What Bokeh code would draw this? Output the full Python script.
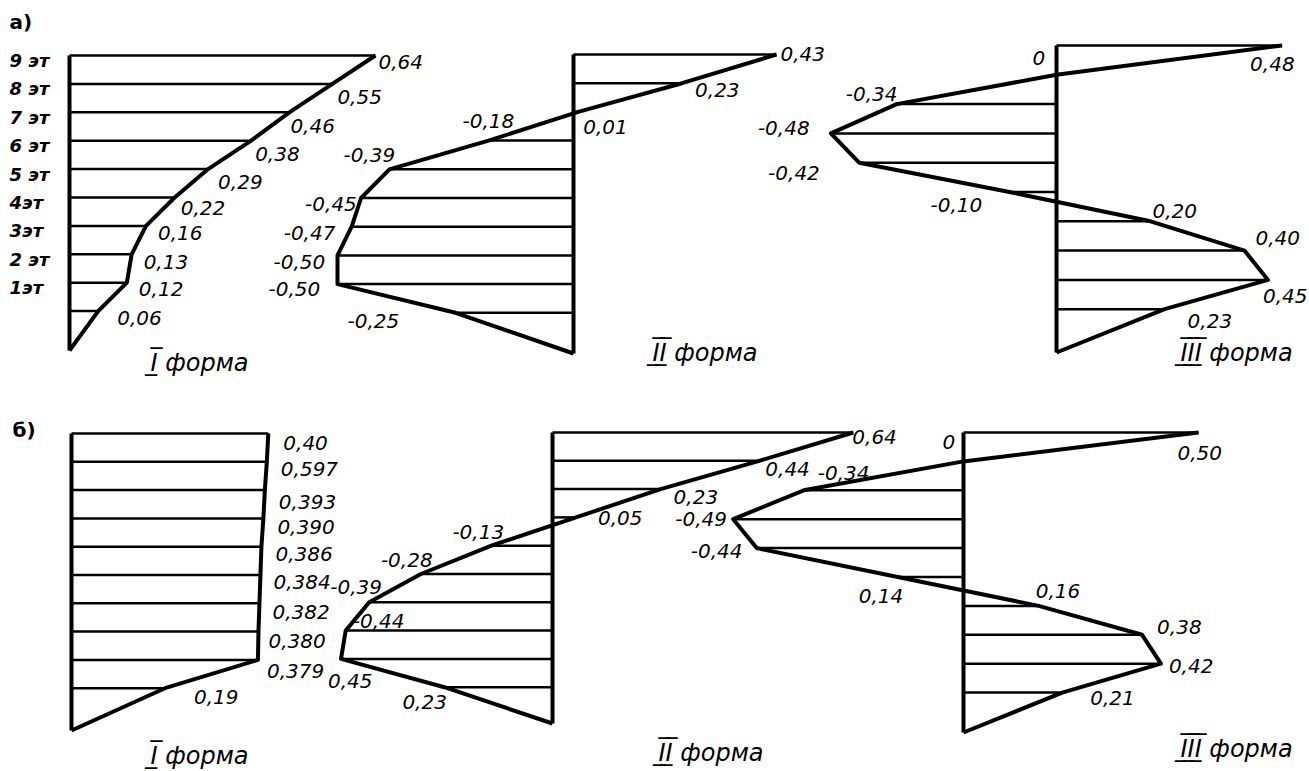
from bokeh.plotting import figure
from bokeh.models import Range1d, ColumnDataSource
from bokeh.core.properties import value
from bokeh.embed import file_html
from bokeh.resources import INLINE

# ---------------- data ----------------
floor_labels = ["9 эт", "8 эт", "7 эт", "6 эт", "5 эт", "4эт", "3эт", "2 эт", "1эт"]

a1_vals = [0.64, 0.55, 0.46, 0.38, 0.29, 0.22, 0.16, 0.13, 0.12, 0.06]
a1_text = ["0,64", "0,55", "0,46", "0,38", "0,29", "0,22", "0,16", "0,13", "0,12", "0,06"]

a2_vals = [0.43, 0.23, 0.01, -0.18, -0.39, -0.45, -0.47, -0.50, -0.50, -0.25]
a2_text = ["0,43", "0,23", "0,01", "-0,18", "-0,39", "-0,45", "-0,47", "-0,50", "-0,50", "-0,25"]

a3_vals = [0.48, 0.0, -0.34, -0.48, -0.42, -0.10, 0.20, 0.40, 0.45, 0.23]
a3_text = ["0,48", "0", "-0,34", "-0,48", "-0,42", "-0,10", "0,20", "0,40", "0,45", "0,23"]

b1_vals = [0.40, 0.397, 0.393, 0.390, 0.386, 0.384, 0.382, 0.380, 0.379, 0.19]
b1_text = ["0,40", "0,597", "0,393", "0,390", "0,386", "0,384", "0,382", "0,380", "0,379", "0,19"]

b2_vals = [0.64, 0.44, 0.23, 0.05, -0.13, -0.28, -0.39, -0.44, -0.45, -0.23]
b2_text = ["0,64", "0,44", "0,23", "0,05", "-0,13", "-0,28", "-0,39", "-0,44", "0,45", "0,23"]

b3_vals = [0.50, 0.0, -0.34, -0.49, -0.44, -0.14, 0.16, 0.38, 0.42, 0.21]
b3_text = ["0,50", "0", "-0,34", "-0,49", "-0,44", "0,14", "0,16", "0,38", "0,42", "0,21"]

mode_titles = ["I", "II", "III"]
row_labels = ["а)", "б)"]

# ---------------- layout ----------------
W, H = 1309, 771
p = figure(width=W, height=H, output_backend="svg", toolbar_location=None,
           x_range=Range1d(0, W), y_range=Range1d(H, 0),
           x_axis_type=None, y_axis_type=None, min_border=0)
p.grid.visible = False
p.outline_line_color = None
p.background_fill_color = "white"
p.border_fill_color = "white"

FONT = value("DejaVu Sans")
INK = "#000000"

panels = [
    dict(vals=a1_vals, text=a1_text, base=69, top=55, sp=28.4, ground=350, scale=478,
         off=[(3, 6), (5, 13), (1, 14), (4, 13), (10, 13), (6, 10), (12, 7), (12, 8), (12, 6), (19, 7)],
         title=(150, 362, 0)),
    dict(vals=a2_vals, text=a2_text, base=573, top=54, sp=28.7, ground=353, scale=472,
         off=[(4, -1), (13, 7), (5, 15), (-26, -20), (-46, -14), (-56, 6), (-68, 6), (-64, 7), (-69, 5), (-108, 8)],
         title=(652, 352, 1)),
    dict(vals=a3_vals, text=a3_text, base=1056, top=45, sp=29.3, ground=352, scale=470,
         off=[(-32, 18), (-24, -17), (-51, -10), (-73, -5), (-91, 10), (-79, 13), (2, -10), (11, -13), (-5, 16), (23, 12)],
         title=(1180, 352, 2)),
    dict(vals=b1_vals, text=b1_text, base=71, top=433, sp=28.3, ground=730, scale=492,
         off=[(15, 9), (14, 7), (14, 12), (14, 9), (14, 7), (13, 7), (13, 9), (10, 9), (9, 11), (29, 9)],
         title=(150, 755, 0)),
    dict(vals=b2_vals, text=b2_text, base=552, top=432, sp=28.3, ground=723, scale=470,
         off=[(-1, 4), (6, 8), (13, 8), (22, 1), (-39, -14), (-40, -14), (-39, -15), (7, -10), (-13, 22), (-42, 15)],
         title=(658, 752, 1)),
    dict(vals=b3_vals, text=b3_text, base=963, top=432, sp=28.9, ground=732, scale=470,
         off=[(-21, 20), (-21, -19), (14, -17), (-58, 0), (-66, 3), (-39, 19), (-3, -15), (15, -8), (8, 2), (28, 5)],
         title=(1180, 748, 2)),
]


def numeral(s):
    return "".join(ch + "\u0305\u0332" for ch in s)


for pn in panels:
    n = len(pn["vals"])
    ys = [pn["top"] + i * pn["sp"] for i in range(n)]
    xs = [pn["base"] + v * pn["scale"] for v in pn["vals"]]
    # floor lines
    p.segment(x0=[pn["base"]] * n, y0=ys, x1=xs, y1=ys, line_color=INK, line_width=2.5)
    # building axis
    p.segment(x0=[pn["base"]], y0=[pn["top"]], x1=[pn["base"]], y1=[pn["ground"]],
              line_color=INK, line_width=4)
    # mode shape
    p.line(x=xs + [pn["base"]], y=ys + [pn["ground"]], line_color=INK, line_width=4,
           line_join="round")
    # value labels
    src = ColumnDataSource(dict(x=[x + o[0] for x, o in zip(xs, pn["off"])],
                                y=[y + o[1] for y, o in zip(ys, pn["off"])],
                                t=pn["text"]))
    p.text(x="x", y="y", text="t", source=src, text_font=FONT, text_font_style="italic",
           text_font_size="20px", text_baseline="middle", text_align="left", text_color=INK)
    tx, ty, k = pn["title"]
    p.text(x=[tx], y=[ty], text=[numeral(mode_titles[k]) + " форма"], text_font=FONT,
           text_font_style="italic", text_font_size="24px", text_baseline="middle",
           text_align="left", text_color=INK)

# floor names for first panel
a1 = panels[0]
p.text(x=[9] * len(floor_labels),
       y=[a1["top"] + i * a1["sp"] + 5 for i in range(len(floor_labels))],
       text=floor_labels, text_font=FONT, text_font_style="bold italic",
       text_font_size="18px", text_baseline="middle", text_align="left", text_color=INK)

# row labels
p.text(x=[9, 12], y=[21, 429], text=row_labels, text_font=FONT, text_font_style="bold",
       text_font_size="20px", text_baseline="middle", text_align="left", text_color=INK)

open("out.html", "w").write(file_html(p, INLINE))
